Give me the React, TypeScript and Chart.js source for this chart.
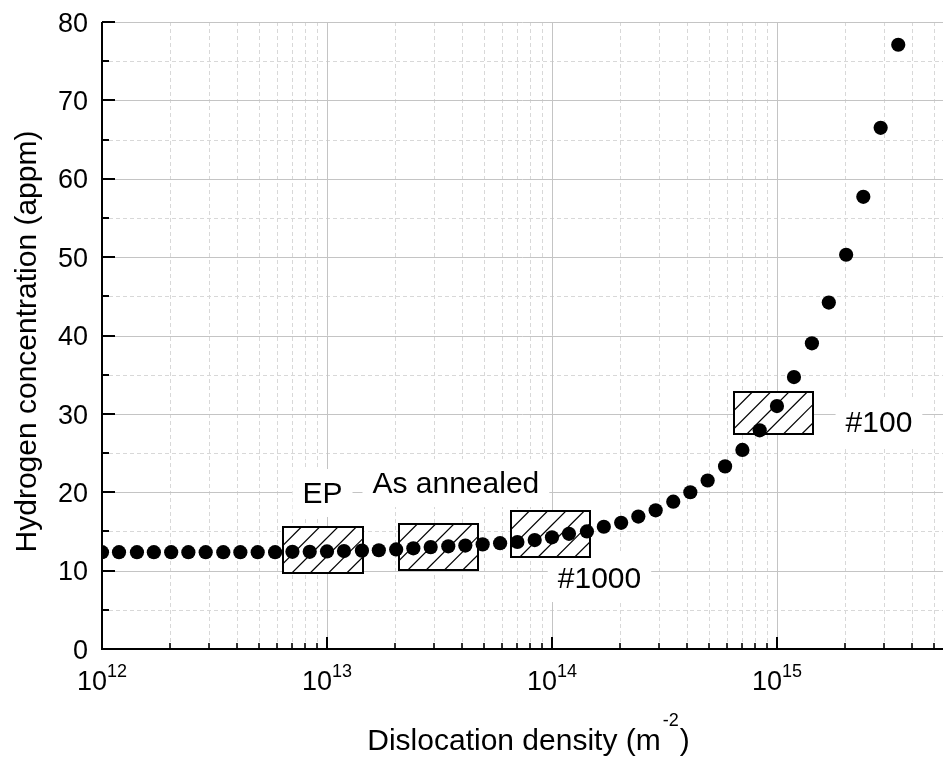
import React, { useEffect, useRef } from "react";
import { Chart, registerables } from "chart.js";

Chart.register(...registerables);

// ---- data ----
const densities: number[] = [
  1.0e12, 1.19e12, 1.43e12, 1.7e12, 2.03e12, 2.42e12, 2.89e12, 3.46e12, 4.12e12, 4.92e12, 5.88e12, 7.02e12, 8.38e12,
  1.0e13, 1.19e13, 1.43e13, 1.7e13, 2.03e13, 2.42e13, 2.89e13, 3.46e13, 4.12e13, 4.92e13, 5.88e13, 7.02e13, 8.38e13,
  1.0e14, 1.19e14, 1.43e14, 1.7e14, 2.03e14, 2.42e14, 2.89e14, 3.46e14, 4.12e14, 4.92e14, 5.88e14, 7.02e14, 8.38e14,
  1.0e15, 1.19e15, 1.43e15, 1.7e15, 2.03e15, 2.42e15, 2.89e15, 3.46e15,
];
const hydrogen: number[] = [
  12.35, 12.35, 12.35, 12.35, 12.35, 12.35, 12.35, 12.35, 12.35, 12.35, 12.35, 12.4, 12.4,
  12.45, 12.5, 12.55, 12.6, 12.7, 12.85, 13.0, 13.1, 13.2, 13.35, 13.5, 13.65, 13.9,
  14.25, 14.7, 15.0, 15.6, 16.1, 16.9, 17.7, 18.8, 20.0, 21.5, 23.3, 25.4, 27.9,
  31.0, 34.7, 39.0, 44.2, 50.3, 57.7, 66.5, 77.1,
];

const xMin = 1e12;
const xMax = 5.47e15;
const yMin = 0;
const yMax = 80;

const yTickValues: number[] = [0, 10, 20, 30, 40, 50, 60, 70, 80];
const yTickLabels: string[] = ["0", "10", "20", "30", "40", "50", "60", "70", "80"];
const yMinorValues: number[] = [5, 15, 25, 35, 45, 55, 65, 75];
const xMajorValues: number[] = [1e12, 1e13, 1e14, 1e15];
const xMajorExponents: string[] = ["12", "13", "14", "15"];
const xMinorValues: number[] = [
  2e12, 3e12, 4e12, 5e12, 6e12, 7e12, 8e12, 9e12,
  2e13, 3e13, 4e13, 5e13, 6e13, 7e13, 8e13, 9e13,
  2e14, 3e14, 4e14, 5e14, 6e14, 7e14, 8e14, 9e14,
  2e15, 3e15, 4e15, 5e15,
];

// hatched sample boxes (data units)
const boxXMin: number[] = [6.4e12, 2.09e13, 6.57e13, 6.46e14];
const boxXMax: number[] = [1.44e13, 4.7e13, 1.48e14, 1.45e15];
const boxYMin: number[] = [9.7, 10.1, 11.7, 27.4];
const boxYMax: number[] = [15.6, 16.0, 17.6, 32.8];

// labels (data units, baseline centre)
const labelTexts: string[] = ["EP", "As annealed", "#1000", "#100"];
const labelX: number[] = [9.55e12, 3.74e13, 1.626e14, 2.84e15];
const labelY: number[] = [18.63, 19.9, 7.78, 27.69];

const xTitleMain = "Dislocation density (m";
const xTitleSup = "-2";
const xTitleEnd = ")";
const yTitle = "Hydrogen concentration (appm)";

const FONT = '"Liberation Sans", Arial, Helvetica, sans-serif';

const overlayPlugin = {
  id: "overlay",
  beforeDatasetsDraw(chart: any) {
    const { ctx, chartArea: a } = chart;
    const xs = chart.scales.x;
    const ys = chart.scales.y;
    const line = (x1: number, y1: number, x2: number, y2: number) => {
      ctx.beginPath();
      ctx.moveTo(x1, y1);
      ctx.lineTo(x2, y2);
      ctx.stroke();
    };
    ctx.save();

    // minor grid
    ctx.lineWidth = 1;
    ctx.strokeStyle = "#d8d8d8";
    ctx.setLineDash([4, 3]);
    for (const v of xMinorValues) {
      const p = Math.round(xs.getPixelForValue(v)) + 0.5;
      if (p > a.right) continue;
      line(p, a.top, p, a.bottom);
    }
    for (const v of yMinorValues) {
      const p = Math.round(ys.getPixelForValue(v)) + 0.5;
      line(a.left, p, a.right, p);
    }
    // major grid
    ctx.setLineDash([]);
    ctx.strokeStyle = "#c4c4c4";
    for (const v of xMajorValues) {
      if (v <= xMin) continue;
      const p = Math.round(xs.getPixelForValue(v)) + 0.5;
      line(p, a.top, p, a.bottom);
    }
    for (const v of yTickValues) {
      if (v <= yMin) continue;
      const p = Math.round(ys.getPixelForValue(v)) + 0.5;
      line(a.left, p, a.right, p);
    }

    // label backgrounds
    ctx.font = `30px ${FONT}`;
    ctx.fillStyle = "#ffffff";
    for (let i = 0; i < labelTexts.length; i++) {
      const px = xs.getPixelForValue(labelX[i]);
      const py = ys.getPixelForValue(labelY[i]);
      const w = ctx.measureText(labelTexts[i]).width;
      ctx.fillRect(px - w / 2 - 10, py - 34, w + 20, 48);
    }

    // hatched boxes
    for (let i = 0; i < boxXMin.length; i++) {
      const x0 = Math.round(xs.getPixelForValue(boxXMin[i]));
      const x1 = Math.round(xs.getPixelForValue(boxXMax[i]));
      const y0 = Math.round(ys.getPixelForValue(boxYMax[i]));
      const y1 = Math.round(ys.getPixelForValue(boxYMin[i]));
      const w = x1 - x0;
      const h = y1 - y0;
      ctx.fillStyle = "#ffffff";
      ctx.fillRect(x0, y0, w, h);
      ctx.save();
      ctx.beginPath();
      ctx.rect(x0, y0, w, h);
      ctx.clip();
      ctx.strokeStyle = "#000000";
      ctx.lineWidth = 1.2;
      const sp = 18.3;
      for (let t = x0; t < x1 + h; t += sp) {
        line(t - h, y1, t, y0);
      }
      ctx.restore();
      ctx.strokeStyle = "#000000";
      ctx.lineWidth = 2;
      ctx.strokeRect(x0, y0, w, h);
    }

    // label texts
    ctx.fillStyle = "#000000";
    ctx.textAlign = "center";
    ctx.textBaseline = "alphabetic";
    for (let i = 0; i < labelTexts.length; i++) {
      const px = xs.getPixelForValue(labelX[i]);
      const py = ys.getPixelForValue(labelY[i]);
      ctx.fillText(labelTexts[i], px, py);
    }

    // axes lines
    ctx.strokeStyle = "#000000";
    ctx.lineWidth = 2;
    line(a.left, a.top, a.left, a.bottom + 1);
    line(a.left - 1, a.bottom, a.right, a.bottom);

    // inward ticks
    for (const v of yTickValues) {
      const p = Math.round(ys.getPixelForValue(v));
      line(a.left, p, a.left + 13, p);
    }
    for (const v of yMinorValues) {
      const p = Math.round(ys.getPixelForValue(v));
      line(a.left, p, a.left + 7, p);
    }
    for (const v of xMajorValues) {
      const p = Math.round(xs.getPixelForValue(v));
      line(p, a.bottom, p, a.bottom - 12);
    }
    ctx.lineWidth = 1.6;
    for (const v of xMinorValues) {
      const p = Math.round(xs.getPixelForValue(v));
      if (p > a.right) continue;
      line(p, a.bottom, p, a.bottom - 6);
    }

    // y tick labels
    ctx.fillStyle = "#000000";
    ctx.font = `27px ${FONT}`;
    ctx.textAlign = "right";
    ctx.textBaseline = "alphabetic";
    for (let i = 0; i < yTickValues.length; i++) {
      const p = ys.getPixelForValue(yTickValues[i]);
      ctx.fillText(yTickLabels[i], a.left - 14, p + 9.7);
    }

    // x tick labels 10^n
    ctx.textAlign = "left";
    for (let i = 0; i < xMajorValues.length; i++) {
      const p = xs.getPixelForValue(xMajorValues[i]);
      ctx.font = `27px ${FONT}`;
      const wBase = ctx.measureText("10").width;
      ctx.font = `18px ${FONT}`;
      const wExp = ctx.measureText(xMajorExponents[i]).width;
      const start = p - (wBase + wExp) / 2;
      ctx.font = `27px ${FONT}`;
      ctx.fillText("10", start, a.bottom + 41);
      ctx.font = `18px ${FONT}`;
      ctx.fillText(xMajorExponents[i], start + wBase, a.bottom + 28);
    }

    // x title
    ctx.font = `30px ${FONT}`;
    const w1 = ctx.measureText(xTitleMain).width;
    const w3 = ctx.measureText(xTitleEnd).width;
    ctx.font = `18px ${FONT}`;
    const w2 = ctx.measureText(xTitleSup).width;
    const cx = (a.left + a.right) / 2 + 4.5;
    const sx = cx - (w1 + w2 + w3) / 2;
    const by = a.bottom + 101;
    ctx.font = `30px ${FONT}`;
    ctx.fillText(xTitleMain, sx, by);
    ctx.font = `18px ${FONT}`;
    ctx.fillText(xTitleSup, sx + w1 + 2, by - 24);
    ctx.font = `30px ${FONT}`;
    ctx.fillText(xTitleEnd, sx + w1 + w2 + 3, by);

    // y title
    ctx.save();
    ctx.translate(a.left - 66, (a.top + a.bottom) / 2 + 6);
    ctx.rotate(-Math.PI / 2);
    ctx.textAlign = "center";
    ctx.font = `30px ${FONT}`;
    ctx.fillText(yTitle, 0, 0);
    ctx.restore();

    ctx.restore();
  },
};

export default function App() {
  const canvasRef = useRef<HTMLCanvasElement | null>(null);

  useEffect(() => {
    const canvas = canvasRef.current;
    if (!canvas) return;
    const points = densities.map((d, i) => ({ x: d, y: hydrogen[i] }));
    const chart = new Chart(canvas, {
      type: "scatter",
      data: {
        datasets: [
          {
            label: "Hydrogen concentration",
            data: points,
            backgroundColor: "#000000",
            borderColor: "#000000",
            borderWidth: 0,
            pointRadius: 7.1,
            pointHoverRadius: 7.1,
          },
        ],
      },
      options: {
        animation: false,
        responsive: false,
        devicePixelRatio: 1,
        events: [],
        layout: { autoPadding: false, padding: { left: 102, top: 22, right: 0, bottom: 112 } },
        plugins: {
          legend: { display: false },
          tooltip: { enabled: false },
        },
        scales: {
          x: { type: "logarithmic", min: xMin, max: xMax, display: false },
          y: { type: "linear", min: yMin, max: yMax, display: false },
        },
      },
      plugins: [overlayPlugin],
    } as any);
    return () => chart.destroy();
  }, []);

  return (
    <div style={{ position: "absolute", left: 0, top: 0, width: 943, height: 761, background: "#ffffff" }}>
      <canvas ref={canvasRef} width={943} height={761} style={{ display: "block", width: 943, height: 761 }} />
    </div>
  );
}
